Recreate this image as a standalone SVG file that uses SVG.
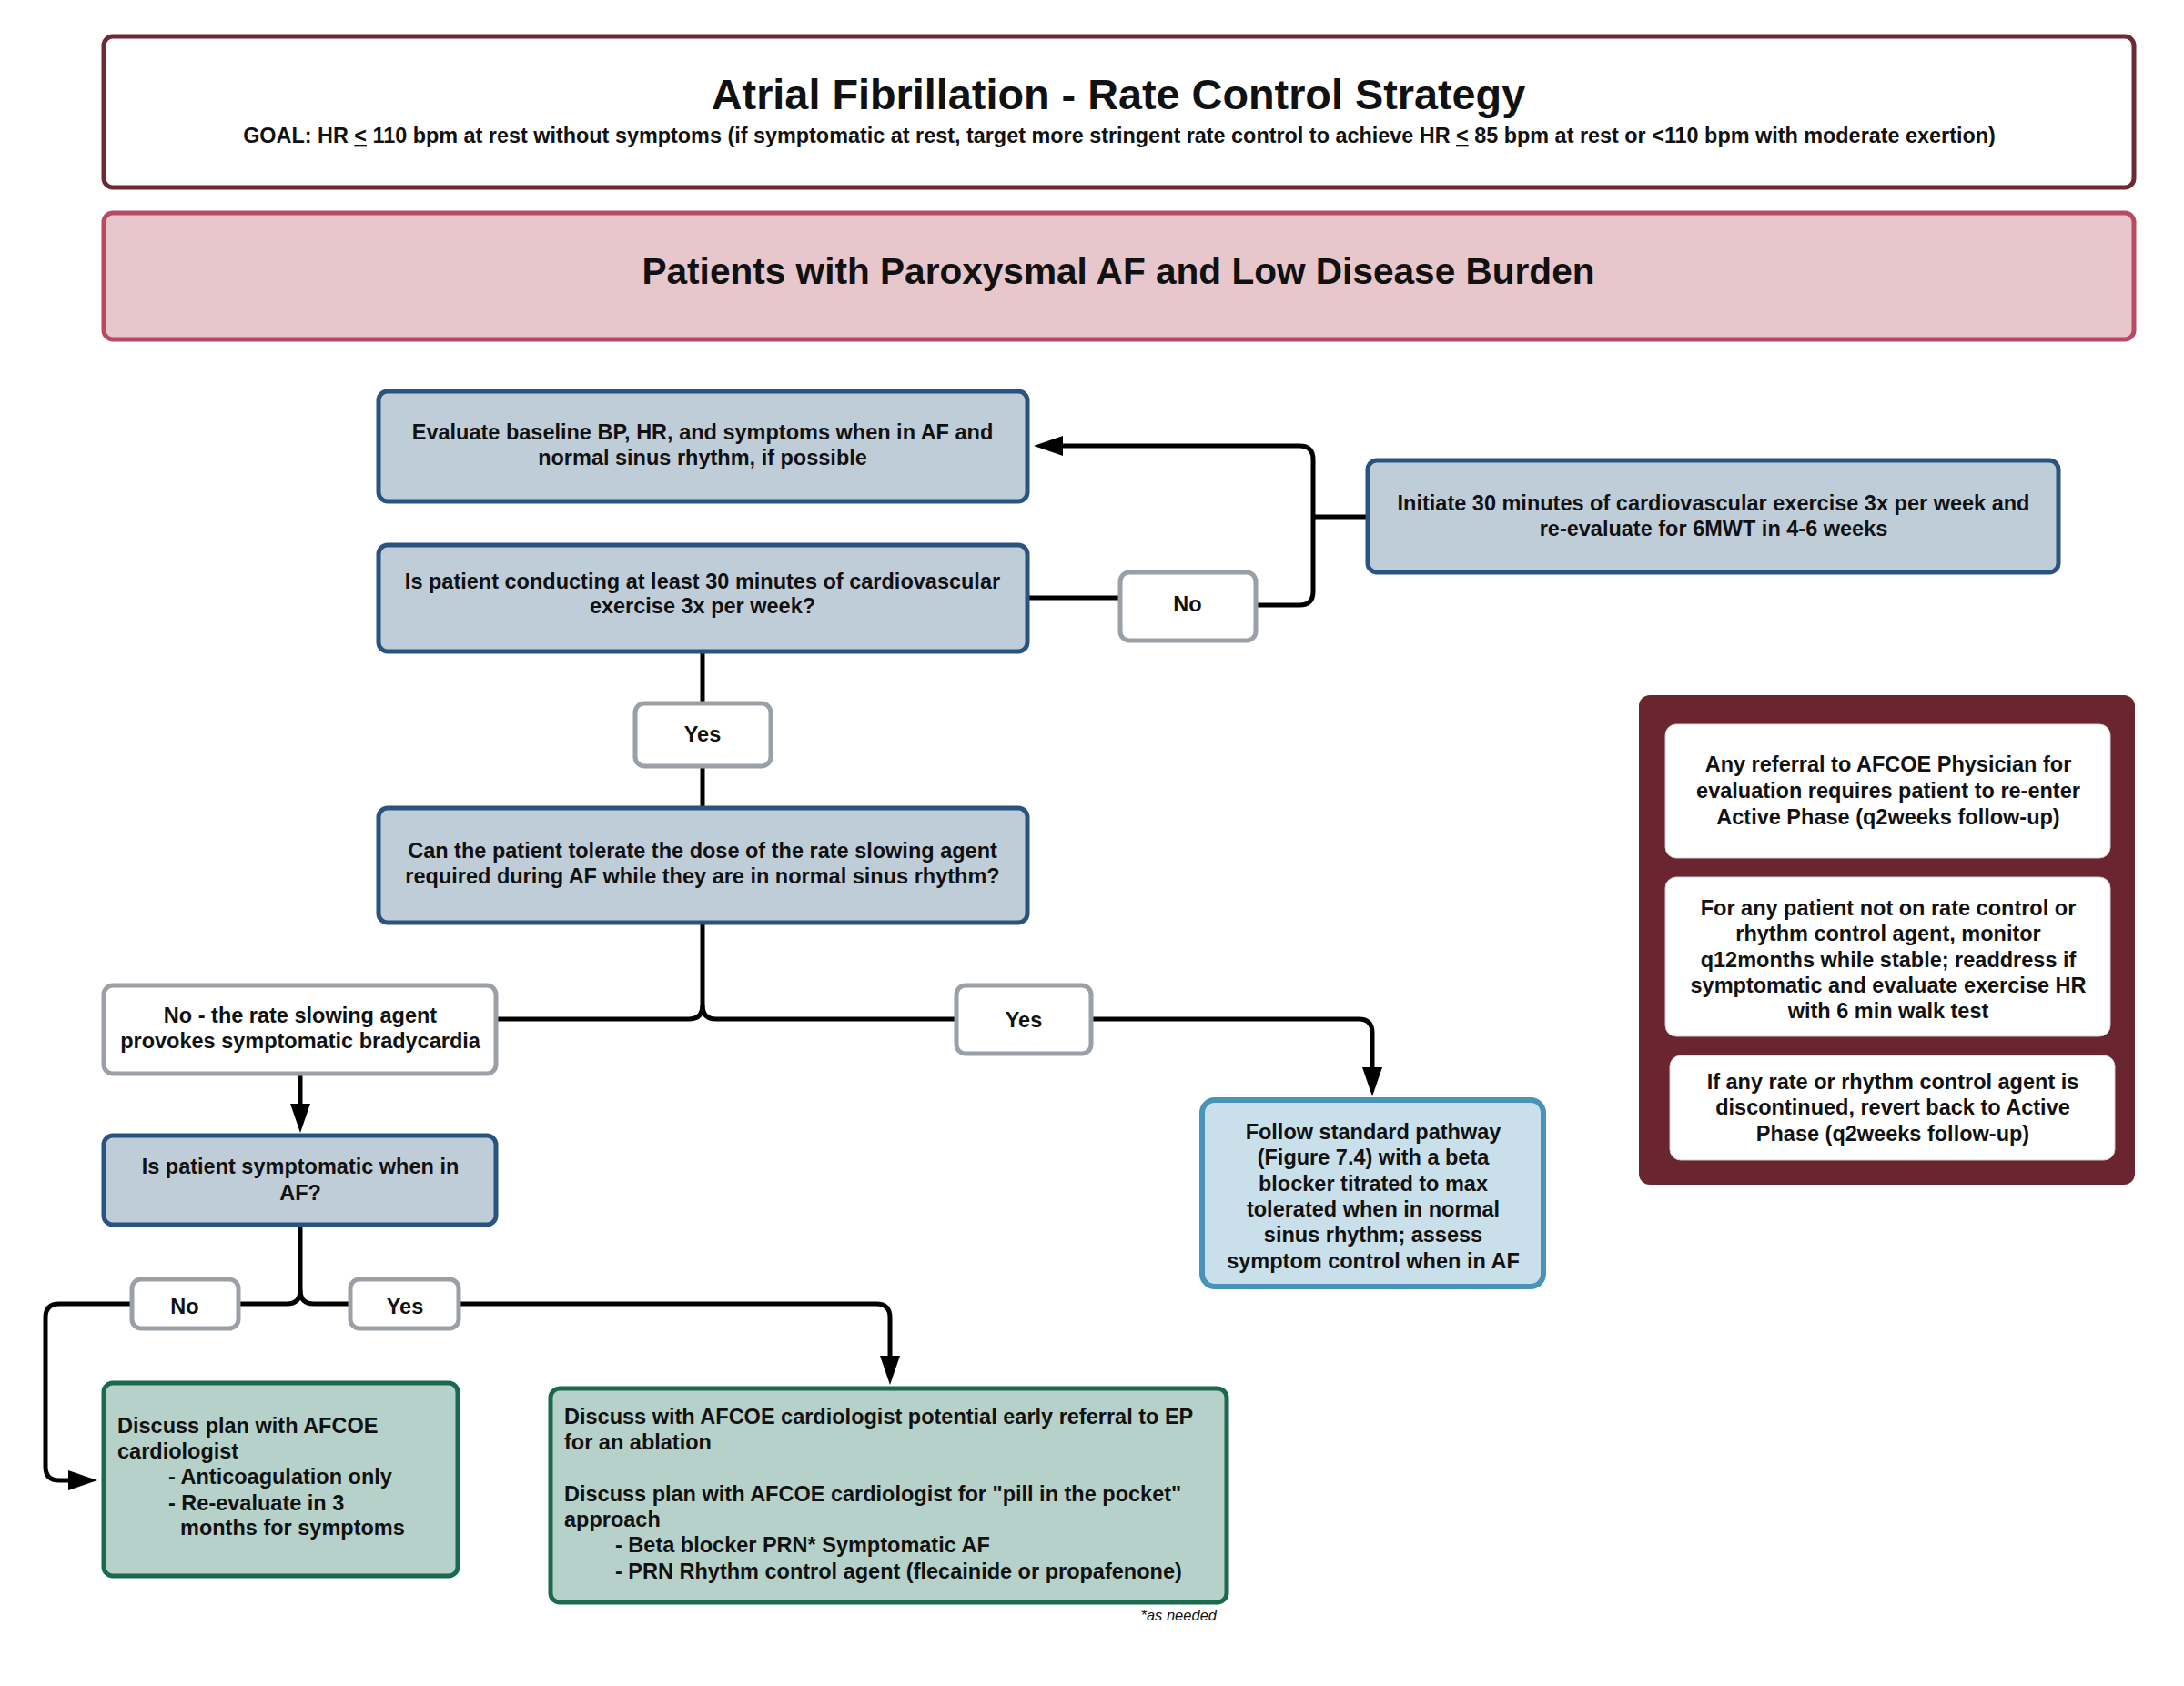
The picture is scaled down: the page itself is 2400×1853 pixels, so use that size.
<svg xmlns="http://www.w3.org/2000/svg" width="2400" height="1853" viewBox="0 0 2400 1853">
<defs>
<style>
text{font-family:"Liberation Sans",Arial,sans-serif;font-weight:bold;fill:#111;}
.t{font-size:23.5px;text-anchor:middle;transform:translate(0px,2px);}
.l{font-size:23.5px;text-anchor:start;transform:translate(0px,2px);}
.blue{fill:#bfcdd9;stroke:#2b5380;stroke-width:5;}
.lab{fill:#fff;stroke:#9aa0a6;stroke-width:5;}
.green{fill:#b5d1c9;stroke:#1a6b4c;stroke-width:5;}
.inner{fill:#fff;stroke:#d0d0d0;stroke-width:1;}
.c{fill:none;stroke:#000;stroke-width:5;}
.a{marker-end:url(#ah);}
</style>
<marker id="ah" markerUnits="userSpaceOnUse" markerWidth="32" markerHeight="22" refX="22" refY="11" orient="auto">
<path d="M0,0 L32,11 L0,22 z" fill="#000"/>
</marker>
</defs>
<rect width="2400" height="1853" fill="#fff"/>

<g id="title">
<rect x="114" y="40" width="2231" height="166" rx="10" fill="#fff" stroke="#6b2a36" stroke-width="5"/>
<text x="1229" y="120" style="font-size:46.8px;text-anchor:middle">Atrial Fibrillation - Rate Control Strategy</text>
<text x="1230" y="157" style="font-size:23.4px;text-anchor:middle">GOAL: HR <tspan text-decoration="underline">&lt;</tspan> 110 bpm at rest without symptoms (if symptomatic at rest, target more stringent rate control to achieve HR <tspan text-decoration="underline">&lt;</tspan> 85 bpm at rest or &lt;110 bpm with moderate exertion)</text>
</g>

<g id="subtitle">
<rect x="114" y="234" width="2231" height="139" rx="10" fill="#e7c6cc" stroke="#b84a64" stroke-width="5"/>
<text x="1229" y="312" style="font-size:40.6px;text-anchor:middle">Patients with Paroxysmal AF and Low Disease Burden</text>
</g>

<g id="connectors">
<path class="c" d="M1131,657 H1229"/>
<path class="c a" d="M1382,665 H1428 Q1443,665 1443,650 V505 Q1443,490 1428,490 H1146"/>
<path class="c" d="M1443,568 H1501"/>
<path class="c" d="M772,718 V771"/>
<path class="c" d="M772,844 V886"/>
<path class="c" d="M772,1016 V1105 Q772,1120 757,1120 H547"/>
<path class="c" d="M772,1105 Q772,1120 787,1120 H1049"/>
<path class="c a" d="M1201,1120 H1493 Q1508,1120 1508,1135 V1195"/>
<path class="c a" d="M330,1182 V1235"/>
<path class="c" d="M330,1348 V1418 Q330,1433 315,1433 H264"/>
<path class="c" d="M330,1418 Q330,1433 345,1433 H383"/>
<path class="c a" d="M143,1433 H65 Q50,1433 50,1448 V1612 Q50,1627 65,1627 H97"/>
<path class="c a" d="M506,1433 H963 Q978,1433 978,1448 V1512"/>
</g>

<g id="evaluate">
<rect class="blue" x="416" y="430" width="713" height="121" rx="10"/>
<text class="t" x="772" y="481">Evaluate baseline BP, HR, and symptoms when in AF and</text>
<text class="t" x="772" y="509">normal sinus rhythm, if possible</text>
</g>

<g id="q-exercise">
<rect class="blue" x="416" y="599" width="713" height="117" rx="10"/>
<text class="t" x="772" y="645">Is patient conducting at least 30 minutes of cardiovascular</text>
<text class="t" x="772" y="672">exercise 3x per week?</text>
</g>

<g id="label-no-1">
<rect class="lab" x="1231" y="629" width="149" height="75" rx="10"/>
<text class="t" x="1305" y="670">No</text>
</g>

<g id="initiate">
<rect class="blue" x="1503" y="506" width="759" height="123" rx="10"/>
<text class="t" x="1883" y="559">Initiate 30 minutes of cardiovascular exercise 3x per week and</text>
<text class="t" x="1883" y="587">re-evaluate for 6MWT in 4-6 weeks</text>
</g>

<g id="label-yes-1">
<rect class="lab" x="698" y="773" width="149" height="69" rx="10"/>
<text class="t" x="772" y="813">Yes</text>
</g>

<g id="q-tolerate">
<rect class="blue" x="416" y="888" width="713" height="126" rx="10"/>
<text class="t" x="772" y="941">Can the patient tolerate the dose of the rate slowing agent</text>
<text class="t" x="772" y="969">required during AF while they are in normal sinus rhythm?</text>
</g>

<g id="no-bradycardia">
<rect class="lab" x="114" y="1083" width="431" height="97" rx="10"/>
<text class="t" x="330" y="1122">No - the rate slowing agent</text>
<text class="t" x="330" y="1150">provokes symptomatic bradycardia</text>
</g>

<g id="label-yes-2">
<rect class="lab" x="1051" y="1083" width="148" height="75" rx="10"/>
<text class="t" x="1125" y="1127">Yes</text>
</g>

<g id="follow-standard">
<rect x="1321" y="1209" width="375" height="205" rx="14" fill="#c9dfe9" stroke="#4a93b8" stroke-width="6"/>
<text class="t" x="1509" y="1250">Follow standard pathway</text>
<text class="t" x="1509" y="1278">(Figure 7.4) with a beta</text>
<text class="t" x="1509" y="1307">blocker titrated to max</text>
<text class="t" x="1509" y="1335">tolerated when in normal</text>
<text class="t" x="1509" y="1363">sinus rhythm; assess</text>
<text class="t" x="1509" y="1392">symptom control when in AF</text>
</g>

<g id="q-symptomatic">
<rect class="blue" x="114" y="1248" width="431" height="98" rx="10"/>
<text class="t" x="330" y="1288">Is patient symptomatic when in</text>
<text class="t" x="330" y="1317">AF?</text>
</g>

<g id="label-no-3">
<rect class="lab" x="145" y="1406" width="117" height="54" rx="10"/>
<text class="t" x="203" y="1442">No</text>
</g>

<g id="label-yes-3">
<rect class="lab" x="385" y="1406" width="119" height="54" rx="10"/>
<text class="t" x="445" y="1442">Yes</text>
</g>

<g id="plan-anticoag">
<rect class="green" x="114" y="1520" width="389" height="212" rx="10"/>
<text class="l" x="129" y="1573">Discuss plan with AFCOE</text>
<text class="l" x="129" y="1601">cardiologist</text>
<text class="l" x="185" y="1629">- Anticoagulation only</text>
<text class="l" x="185" y="1658">- Re-evaluate in 3</text>
<text class="l" x="198" y="1685">months for symptoms</text>
</g>

<g id="plan-ablation">
<rect class="green" x="605" y="1526" width="743" height="235" rx="10"/>
<text class="l" x="620" y="1563">Discuss with AFCOE cardiologist potential early referral to EP</text>
<text class="l" x="620" y="1591">for an ablation</text>
<text class="l" x="620" y="1648">Discuss plan with AFCOE cardiologist for "pill in the pocket"</text>
<text class="l" x="620" y="1676">approach</text>
<text class="l" x="676" y="1704">- Beta blocker PRN* Symptomatic AF</text>
<text class="l" x="676" y="1733">- PRN Rhythm control agent (flecainide or propafenone)</text>
</g>

<g id="footnote">
<text x="1337" y="1781" style="font-size:16.5px;font-weight:normal;font-style:italic;text-anchor:end">*as needed</text>
</g>

<g id="notes-panel">
<rect x="1801" y="764" width="545" height="538" rx="12" fill="#6b2531"/>
<rect class="inner" x="1830" y="796" width="489" height="147" rx="12"/>
<text class="t" x="2075" y="846">Any referral to AFCOE Physician for</text>
<text class="t" x="2075" y="875">evaluation requires patient to re-enter</text>
<text class="t" x="2075" y="904">Active Phase (q2weeks follow-up)</text>
<rect class="inner" x="1830" y="964" width="489" height="175" rx="12"/>
<text class="t" x="2075" y="1004">For any patient not on rate control or</text>
<text class="t" x="2075" y="1032">rhythm control agent, monitor</text>
<text class="t" x="2075" y="1061">q12months while stable; readdress if</text>
<text class="t" x="2075" y="1089">symptomatic and evaluate exercise HR</text>
<text class="t" x="2075" y="1117">with 6 min walk test</text>
<rect class="inner" x="1835" y="1160" width="489" height="115" rx="12"/>
<text class="t" x="2080" y="1195">If any rate or rhythm control agent is</text>
<text class="t" x="2080" y="1223">discontinued, revert back to Active</text>
<text class="t" x="2080" y="1252">Phase (q2weeks follow-up)</text>
</g>
</svg>
